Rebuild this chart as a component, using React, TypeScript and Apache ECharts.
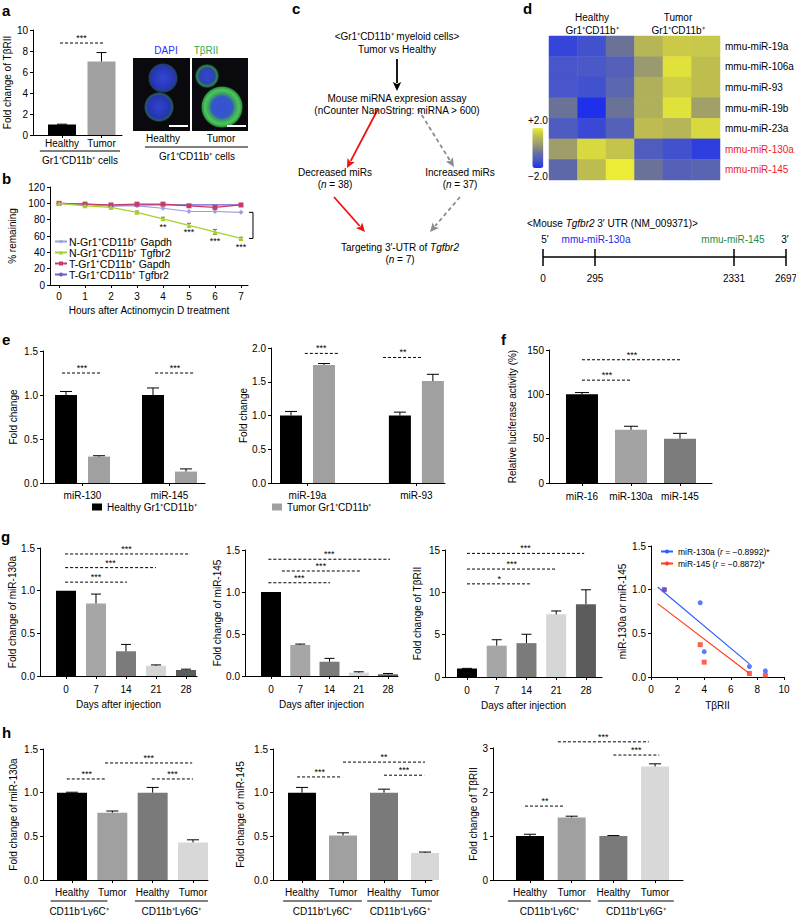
import React, { useEffect, useRef } from 'react';
import * as echarts from 'echarts';

const F = '"Liberation Sans", Arial, Helvetica, sans-serif';

// ---------------- DATA ----------------
// panel a
const aCats = ['Healthy', 'Tumor'];
const aVals = [1.0, 7.0];
const aErr = [0.03, 0.85];
const aColors = ['#000000', '#a0a0a0'];

// panel b
const bHours = [0, 1, 2, 3, 4, 5, 6, 7];
const bNames = ['N-Gr1⁺CD11b⁺ Gapdh', 'N-Gr1⁺CD11b⁺ Tgfbr2', 'T-Gr1⁺CD11b⁺ Gapdh', 'T-Gr1⁺CD11b⁺ Tgfbr2'];
const bNGapdh = [100, 99, 97, 97, 94, 90, 90, 89];
const bNTgfbr2 = [100, 97, 95, 89, 81, 73, 65, 57];
const bNTgfbr2Err = [0, 1, 1, 1.5, 2, 2.5, 3, 1.5];
const bTGapdh = [100, 99, 98, 99, 99, 97, 95, 98];
const bTTgfbr2 = [100, 99, 97, 98, 98, 98, 98, 98];
const bStars = [[4, 71], [5, 65], [6, 54], [7, 46.5]];
const bStarLabels = ['**', '***', '***', '***'];

// panel d heatmap
const dRows = ['mmu-miR-19a', 'mmu-miR-106a', 'mmu-miR-93', 'mmu-miR-19b', 'mmu-miR-23a', 'mmu-miR-130a', 'mmu-miR-145'];
const dRedRows = ['mmu-miR-130a', 'mmu-miR-145'];
const dCols = ['H1', 'H2', 'H3', 'T1', 'T2', 'T3'];
const dValues = [
  [-1.6, -1.35, -0.45, 1.0, 1.4, 1.35],
  [-1.25, -1.2, -0.95, 0.35, 1.8, 1.2],
  [-1.25, -1.35, -0.8, 0.85, 1.5, 1.2],
  [-0.45, -2.0, -0.45, 0.85, 1.8, 0.5],
  [-1.1, -1.5, -0.95, 1.15, 1.0, 1.65],
  [0.45, 1.65, 1.3, -1.05, -1.35, -1.7],
  [-0.75, 1.15, 2.0, -0.45, -0.95, -0.85],
];
const utrLabels = ['0', '295', '2331', '2697'];

// panel e
const eLeftCats = ['miR-130', 'miR-145'];
const eLeftHealthy = [1.0, 1.0];
const eLeftHealthyErr = [0.04, 0.08];
const eLeftTumor = [0.30, 0.13];
const eLeftTumorErr = [0.01, 0.03];
const eRightCats = ['miR-19a', 'miR-93'];
const eRightHealthy = [1.0, 1.0];
const eRightHealthyErr = [0.06, 0.05];
const eRightTumor = [1.75, 1.51];
const eRightTumorErr = [0.02, 0.10];
const eLegend = ['Healthy Gr1⁺CD11b⁺', 'Tumor Gr1⁺CD11b⁺'];

// panel f
const fCats = ['miR-16', 'miR-130a', 'miR-145'];
const fVals = [100, 60, 50];
const fErr = [2, 4, 6];

// panel g
const gDays = ['0', '7', '14', '21', '28'];
const g130a = [1.0, 0.85, 0.29, 0.12, 0.07];
const g130aErr = [0, 0.11, 0.08, 0.01, 0.01];
const g145 = [1.0, 0.37, 0.17, 0.04, 0.02];
const g145Err = [0, 0.01, 0.04, 0.01, 0.01];
const gTbr = [1.0, 3.7, 4.0, 7.4, 8.6];
const gTbrErr = [0.02, 0.7, 1.05, 0.4, 1.7];
const gCorrNames = ['miR-130a (r = −0.8992)*', 'miR-145 (r = −0.8872)*'];
const gFit130a = [[0.5, 1.03], [7.4, 0.15]];
const gFit145 = [[0.5, 0.84], [7.4, 0.04]];

// panel h
const hCats = ['Healthy', 'Tumor', 'Healthy', 'Tumor'];
const hGroups = ['CD11b⁺Ly6C⁺', 'CD11b⁺Ly6G⁺'];
const h130a = [1.0, 0.77, 1.0, 0.43];
const h130aErr = [0.005, 0.02, 0.06, 0.03];
const h145 = [1.0, 0.51, 1.0, 0.31];
const h145Err = [0.06, 0.03, 0.04, 0.01];
const hTbr = [1.0, 1.42, 1.0, 2.58];
const hTbrErr = [0.04, 0.03, 0.01, 0.06];

// ---------------- helpers ----------------
const grey5 = ['#000000', '#a6a6a6', '#7b7b7b', '#d6d6d6', '#5c5c5c'];
const grey4 = ['#000000', '#a0a0a0', '#7a7a7a', '#d8d8d8'];

function buildOption() {
  const grids: any[] = [];
  const xAxes: any[] = [];
  const yAxes: any[] = [];
  const series: any[] = [];
  const legends: any[] = [];
  const graphics: any[] = [];

  const yCfg = (max: number, interval: number, dec: number, name: string, nameGap: number) => ({
    type: 'value', min: 0, max, interval,
    name, nameLocation: 'middle', nameGap,
    nameTextStyle: { fontSize: 10, fontFamily: F, color: '#000' },
    axisLine: { show: true, onZero: false, lineStyle: { color: '#000', width: 1 } },
    axisTick: { show: true, length: 3, lineStyle: { color: '#000' } },
    axisLabel: { fontSize: 10, fontFamily: F, color: '#000', margin: 5, formatter: (v: number) => v.toFixed(dec) },
    splitLine: { show: false },
  });

  const xCfg = (min: number, max: number, pos: number[], labels: string[], margin: number, name?: string, nameGap?: number) => ({
    type: 'value', min, max,
    name: name || '', nameLocation: 'middle', nameGap: nameGap || 20,
    nameTextStyle: { fontSize: 10, fontFamily: F, color: '#000' },
    axisLine: { show: true, onZero: false, lineStyle: { color: '#000', width: 1 } },
    axisTick: { show: true, length: 3, customValues: pos, lineStyle: { color: '#000' } },
    axisLabel: {
      customValues: pos, margin, fontSize: 10, fontFamily: F, color: '#000',
      formatter: (v: number) => {
        let best = 0;
        pos.forEach((p, i) => { if (Math.abs(p - v) < Math.abs(pos[best] - v)) best = i; });
        return labels[best];
      },
    },
    splitLine: { show: false },
  });

  const addGrid = (g: any, x: any, y: any) => {
    const gi = grids.length;
    grids.push({ ...g, containLabel: false, outerBoundsMode: 'none' });
    xAxes.push({ gridIndex: gi, ...x });
    yAxes.push({ gridIndex: gi, ...y });
    return gi;
  };

  const barSeries = (gi: number, name: string, xs: number[], ys: number[], colors: string[], width: number) => ({
    type: 'bar', name, xAxisIndex: gi, yAxisIndex: gi, barWidth: width, barGap: '-100%', z: 2,
    itemStyle: { color: colors[0] },
    data: xs.map((x, i) => ({ value: [x, ys[i]], itemStyle: { color: colors[i % colors.length] } })),
  });

  const errSeries = (gi: number, xs: number[], ys: number[], es: number[], cap: number, both = false, color = '#000') => ({
    type: 'custom', xAxisIndex: gi, yAxisIndex: gi, silent: true, z: 4, clip: false,
    encode: { x: 0, y: 1 },
    data: xs.map((x, i) => [x, ys[i], es[i]]),
    renderItem: (p: any, api: any) => {
      const x = api.value(0), m = api.value(1), e = api.value(2);
      if (!e) return { type: 'group', children: [] };
      const t = api.coord([x, m + e]);
      const b = api.coord([x, both ? m - e : m]);
      const st = { stroke: color, lineWidth: 1 };
      const ch: any[] = [
        { type: 'line', shape: { x1: t[0], y1: b[1], x2: t[0], y2: t[1] }, style: st },
        { type: 'line', shape: { x1: t[0] - cap, y1: t[1], x2: t[0] + cap, y2: t[1] }, style: st },
      ];
      if (both) ch.push({ type: 'line', shape: { x1: t[0] - cap, y1: b[1], x2: t[0] + cap, y2: b[1] }, style: st });
      return { type: 'group', children: ch };
    },
  });

  const sigSeries = (gi: number, lines: number[][], labels: string[]) => ({
    type: 'custom', xAxisIndex: gi, yAxisIndex: gi, silent: true, z: 5, clip: false,
    encode: { x: 0, y: 2 },
    data: lines,
    renderItem: (p: any, api: any) => {
      const l = lines[p.dataIndex];
      const p1 = api.coord([l[0], l[2]]);
      const p2 = api.coord([l[1], l[2]]);
      return {
        type: 'group', children: [
          { type: 'line', shape: { x1: p1[0], y1: p1[1], x2: p2[0], y2: p1[1] }, style: { stroke: '#000', lineWidth: 1, lineDash: [3, 2] } },
          { type: 'text', x: (p1[0] + p2[0]) / 2, y: p1[1] - 0.5, style: { text: labels[p.dataIndex], fill: '#000', fontSize: 9, fontFamily: F, align: 'center', verticalAlign: 'bottom' } },
        ],
      };
    },
  });

  const groupSeries = (gi: number, ranges: number[][], labels: string[], lineOff: number, textOff: number) => ({
    type: 'custom', xAxisIndex: gi, yAxisIndex: gi, silent: true, z: 5, clip: false,
    encode: { x: 0, y: 2 },
    data: ranges.map((r) => [r[0], r[1], 0]),
    renderItem: (p: any, api: any) => {
      const r = ranges[p.dataIndex];
      const p1 = api.coord([r[0], 0]);
      const p2 = api.coord([r[1], 0]);
      return {
        type: 'group', children: [
          { type: 'line', shape: { x1: p1[0], y1: p1[1] + lineOff, x2: p2[0], y2: p1[1] + lineOff }, style: { stroke: '#000', lineWidth: 1 } },
          { type: 'text', x: (p1[0] + p2[0]) / 2, y: p1[1] + textOff, style: { text: labels[p.dataIndex], fill: '#000', fontSize: 10, fontFamily: F, align: 'center', verticalAlign: 'middle' } },
        ],
      };
    },
  });

  const idx = (n: number) => Array.from({ length: n }, (_, i) => i);

  // ---------- panel a ----------
  {
    const pos = [0, 1];
    const gi = addGrid({ left: 33, top: 30, width: 89, height: 105 },
      xCfg(-0.734, 1.519, pos, aCats, 3),
      yCfg(10, 2, 0, 'Fold change of TβRII', 21));
    series.push(barSeries(gi, 'a', pos, aVals, aColors, 28));
    series.push(errSeries(gi, pos, aVals, aErr, 5));
    series.push(sigSeries(gi, [[-0.05, 1.04, 8.76]], ['***']));
    series.push(groupSeries(gi, [[-0.56, 1.47]], ['Gr1⁺CD11b⁺ cells'], 16, 25));
  }

  // ---------- panel b ----------
  {
    const pos = bHours;
    const gi = addGrid({ left: 50, top: 187, width: 198, height: 98 },
      xCfg(-0.346, 7.27, pos, bHours.map(String), 6, 'Hours after Actinomycin D treatment', 20),
      yCfg(120, 20, 0, '% remaining', 33));
    const mk = (name: string, vals: number[], color: string, symbol: string, z: number) => ({
      type: 'line', name, xAxisIndex: gi, yAxisIndex: gi, z,
      data: bHours.map((h, i) => [h, vals[i]]),
      symbol, symbolSize: 5, showSymbol: symbol !== 'none',
      lineStyle: { color, width: 1.2 }, itemStyle: { color },
    });
    series.push(mk(bNames[3], bTTgfbr2, '#6b5fc8', 'none', 2));
    series.push(mk(bNames[0], bNGapdh, '#9a9fe0', 'diamond', 3));
    series.push(mk(bNames[2], bTGapdh, '#c83a6c', 'rect', 3));
    series.push(mk(bNames[1], bNTgfbr2, '#a6d32a', 'triangle', 4));
    series.push(errSeries(gi, bHours, bNTgfbr2, bNTgfbr2Err, 2, true, '#666'));
    series.push({
      type: 'custom', xAxisIndex: gi, yAxisIndex: gi, silent: true, z: 5, clip: false,
      encode: { x: 0, y: 1 }, data: bStars,
      renderItem: (p: any, api: any) => {
        const c = api.coord(bStars[p.dataIndex]);
        return { type: 'text', x: c[0], y: c[1], style: { text: bStarLabels[p.dataIndex], fill: '#000', fontSize: 9, fontFamily: F, align: 'center', verticalAlign: 'middle' } };
      },
    });
    const last = bHours.length - 1;
    const bracket = [[bHours[last], bTTgfbr2[last] - 9, bNTgfbr2[last]]];
    series.push({
      type: 'custom', xAxisIndex: gi, yAxisIndex: gi, silent: true, z: 5, clip: false,
      encode: { x: 0, y: 1 }, data: bracket,
      renderItem: (p: any, api: any) => {
        const b = bracket[0];
        const t = api.coord([b[0], b[1]]);
        const u = api.coord([b[0], b[2]]);
        const x = t[0] + 12;
        return {
          type: 'group', children: [
            { type: 'polyline', shape: { points: [[x - 4, t[1]], [x, t[1]], [x, u[1]], [x - 4, u[1]]] }, style: { stroke: '#000', lineWidth: 1, fill: 'none' } },
          ],
        };
      },
    });
    legends.push({
      left: 54, top: 236, orient: 'vertical', itemGap: 0, itemWidth: 12, itemHeight: 5, padding: 0,
      data: bNames, selectedMode: false,
      textStyle: { fontSize: 10.5, fontFamily: F, color: '#000', lineHeight: 8.3, padding: [0, 0, 0, -3] },
    });
  }

  // ---------- panel d heatmap ----------
  let heatIdx = 0;
  {
    const gi = addGrid({ left: 549, top: 36, width: 171, height: 144 },
      { type: 'category', data: dCols, show: false },
      {
        type: 'category', data: dRows, inverse: true, position: 'right',
        axisLine: { show: false }, axisTick: { show: false }, splitLine: { show: false },
        axisLabel: { fontSize: 10, fontFamily: F, margin: 5, color: (v: string) => (dRedRows.indexOf(v) >= 0 ? '#ee1c24' : '#000') },
      });
    const data: number[][] = [];
    dValues.forEach((row, r) => row.forEach((v, c) => data.push([c, r, v])));
    heatIdx = series.length;
    series.push({ type: 'heatmap', xAxisIndex: gi, yAxisIndex: gi, data, silent: true });
  }

  // ---------- panel e ----------
  {
    const hPos = [0, 2.636], tPos = [1, 3.636];
    const gi = addGrid({ left: 43, top: 351, width: 162, height: 132 },
      xCfg(-0.697, 4.212, [0.5, 3.136], eLeftCats, 7),
      yCfg(1.5, 0.5, 1, 'Fold change', 25));
    series.push(barSeries(gi, eLegend[0], hPos, eLeftHealthy, ['#000000'], 22));
    series.push(barSeries(gi, eLegend[1], tPos, eLeftTumor, ['#a0a0a0'], 22));
    series.push(errSeries(gi, hPos, eLeftHealthy, eLeftHealthyErr, 6));
    series.push(errSeries(gi, tPos, eLeftTumor, eLeftTumorErr, 6));
    series.push(sigSeries(gi, [[-0.12, 1.09, 1.25], [2.7, 3.9, 1.25]], ['***', '***']));
  }
  {
    const hPos = [0, 3.3], tPos = [1, 4.3];
    const gi = addGrid({ left: 271, top: 348, width: 174, height: 135 },
      xCfg(-0.606, 4.667, [0.5, 3.8], eRightCats, 7),
      yCfg(2.0, 0.5, 1, 'Fold change', 19));
    series.push(barSeries(gi, eLegend[0], hPos, eRightHealthy, ['#000000'], 22));
    series.push(barSeries(gi, eLegend[1], tPos, eRightTumor, ['#a0a0a0'], 22));
    series.push(errSeries(gi, hPos, eRightHealthy, eRightHealthyErr, 6));
    series.push(errSeries(gi, tPos, eRightTumor, eRightTumorErr, 6));
    series.push(sigSeries(gi, [[0.42, 1.42, 1.92], [2.79, 4.0, 1.86]], ['***', '**']));
  }
  legends.push({
    left: 92, top: 502, itemWidth: 10, itemHeight: 7, padding: 0, icon: 'rect', selectedMode: false,
    data: [eLegend[0]], textStyle: { fontSize: 10, fontFamily: F, color: '#000' },
  });
  legends.push({
    left: 272, top: 502, itemWidth: 10, itemHeight: 7, padding: 0, icon: 'rect', selectedMode: false,
    data: [eLegend[1]], textStyle: { fontSize: 10, fontFamily: F, color: '#000' },
  });

  // ---------- panel f ----------
  {
    const pos = [0, 1, 2];
    const gi = addGrid({ left: 549, top: 350, width: 163, height: 133 },
      xCfg(-0.673, 2.653, pos, fCats, 8),
      yCfg(150, 50, 0, 'Relative luciferase activity (%)', 32));
    series.push(barSeries(gi, 'f', pos, fVals, ['#000000', '#a3a3a3', '#7c7c7c'], 32));
    series.push(errSeries(gi, pos, fVals, fErr, 7));
    series.push(sigSeries(gi, [[0, 1.02, 116], [0, 2.04, 139]], ['***', '***']));
  }

  // ---------- panel g ----------
  {
    const pos = idx(5);
    const gi = addGrid({ left: 40, top: 548, width: 157, height: 128 },
      xCfg(-0.867, 4.367, pos, gDays, 8, 'Days after injection', 23),
      yCfg(1.5, 0.5, 1, 'Fold change of miR-130a', 22));
    series.push(barSeries(gi, 'g1', pos, g130a, grey5, 20));
    series.push(errSeries(gi, pos, g130a, g130aErr, 5));
    series.push(sigSeries(gi, [[-0.03, 4.07, 1.43], [-0.03, 3.0, 1.27], [-0.03, 2.03, 1.10]], ['***', '***', '***']));
  }
  {
    const pos = idx(5);
    const gi = addGrid({ left: 245, top: 550, width: 153, height: 126 },
      xCfg(-0.889, 4.342, pos, gDays, 8, 'Days after injection', 23),
      yCfg(1.5, 0.5, 1, 'Fold change of miR-145', 18));
    series.push(barSeries(gi, 'g2', pos, g145, grey5, 20));
    series.push(errSeries(gi, pos, g145, g145Err, 5));
    series.push(sigSeries(gi, [[-0.09, 4.07, 1.39], [0.37, 3.04, 1.25], [-0.09, 2.02, 1.11]], ['***', '***', '***']));
  }
  {
    const pos = idx(5);
    const gi = addGrid({ left: 445, top: 550, width: 157, height: 127 },
      xCfg(-0.74, 4.54, pos, gDays, 8, 'Days after injection', 23),
      yCfg(15, 5, 0, 'Fold change of TβRII', 23));
    series.push(barSeries(gi, 'g3', pos, gTbr, grey5, 20));
    series.push(errSeries(gi, pos, gTbr, gTbrErr, 5));
    series.push(sigSeries(gi, [[0, 3.94, 14.6], [0, 3.01, 12.75], [0, 2.17, 11.0]], ['***', '***', '*']));
  }
  {
    const gi = addGrid({ left: 651, top: 546, width: 133, height: 131 },
      {
        type: 'value', min: 0, max: 10, interval: 2,
        name: 'TβRII', nameLocation: 'middle', nameGap: 23,
        nameTextStyle: { fontSize: 10, fontFamily: F, color: '#000' },
        axisLine: { show: true, onZero: false, lineStyle: { color: '#000' } },
        axisTick: { show: true, length: 3, lineStyle: { color: '#000' } },
        axisLabel: { fontSize: 10, fontFamily: F, color: '#000', margin: 7 },
        splitLine: { show: false },
      },
      yCfg(1.5, 0.5, 1, 'miR-130a or miR-145', 24));
    series.push({
      type: 'line', name: gCorrNames[1], xAxisIndex: gi, yAxisIndex: gi, data: gFit145,
      symbol: 'circle', symbolSize: 5, showSymbol: false, lineStyle: { color: '#ff3b1f', width: 1.2 }, itemStyle: { color: '#ff3b1f' }, z: 2,
    });
    series.push({
      type: 'line', name: gCorrNames[0], xAxisIndex: gi, yAxisIndex: gi, data: gFit130a,
      symbol: 'circle', symbolSize: 5, showSymbol: false, lineStyle: { color: '#2f5bff', width: 1.2 }, itemStyle: { color: '#2f5bff' }, z: 2,
    });
    series.push({
      type: 'scatter', name: 'pts145', xAxisIndex: gi, yAxisIndex: gi, symbol: 'rect', symbolSize: 5,
      itemStyle: { color: '#ff3b1f' }, data: gTbr.map((x, i) => [x, g145[i]]), z: 3,
    });
    series.push({
      type: 'scatter', name: 'pts130a', xAxisIndex: gi, yAxisIndex: gi, symbol: 'circle', symbolSize: 5,
      itemStyle: { color: '#2f5bff' }, data: gTbr.map((x, i) => [x, g130a[i]]), z: 4,
    });
    legends.push({
      left: 660, top: 547, orient: 'vertical', itemGap: 3, itemWidth: 12, itemHeight: 5, padding: 0, selectedMode: false,
      data: [gCorrNames[0], gCorrNames[1]],
      formatter: (n: string) => n.replace('(r', '({i|r}'),
      textStyle: { fontSize: 8.5, fontFamily: F, color: '#000', rich: { i: { fontStyle: 'italic', fontSize: 8.5, fontFamily: F } } },
    });
  }

  // ---------- panel h ----------
  {
    const pos = idx(4);
    const gi = addGrid({ left: 43, top: 749, width: 165, height: 131 },
      xCfg(-0.719, 3.372, pos, hCats, 7),
      yCfg(1.5, 0.5, 1, 'Fold change of miR-130a', 25));
    series.push(barSeries(gi, 'h1', pos, h130a, grey4, 30));
    series.push(errSeries(gi, pos, h130a, h130aErr, 6));
    series.push(sigSeries(gi, [[-0.13, 0.86, 1.157], [0.82, 2.98, 1.34], [1.98, 3.0, 1.157]], ['***', '***', '***']));
    series.push(groupSeries(gi, [[-0.53, 0.88], [1.56, 3.37]], hGroups, 21, 31));
  }
  {
    const pos = idx(4);
    const gi = addGrid({ left: 273, top: 749, width: 159, height: 131 },
      xCfg(-0.707, 3.17, pos, hCats, 7),
      yCfg(1.5, 0.5, 1, 'Fold change of miR-145', 28));
    series.push(barSeries(gi, 'h2', pos, h145, grey4, 28));
    series.push(errSeries(gi, pos, h145, h145Err, 6));
    series.push(sigSeries(gi, [[-0.12, 0.98, 1.18], [1.0, 3.0, 1.35], [2.0, 2.98, 1.2]], ['***', '**', '***']));
    series.push(groupSeries(gi, [[-0.46, 1.46], [1.59, 3.17]], hGroups, 21, 31));
  }
  {
    const pos = idx(4);
    const gi = addGrid({ left: 493, top: 748, width: 190, height: 132 },
      xCfg(-0.887, 3.67, pos, hCats, 7),
      yCfg(3, 1, 0, 'Fold change of TβRII', 13));
    series.push(barSeries(gi, 'h3', pos, hTbr, grey4, 28));
    series.push(errSeries(gi, pos, hTbr, hTbrErr, 6));
    series.push(sigSeries(gi, [[-0.12, 0.84, 1.68], [0.67, 2.85, 3.14], [2.0, 3.1, 2.84]], ['**', '***', '***']));
    series.push(groupSeries(gi, [[-0.53, 1.46], [1.63, 3.45]], hGroups, 21, 31));
  }

  // ---------- graphics ----------
  const T = (x: number, y: number, text: string, o: any = {}) => ({
    type: 'text', x, y, silent: true, z: 10,
    style: {
      text, fill: o.fill || '#000', fontSize: o.size || 10, fontFamily: F, fontWeight: o.weight || 'normal',
      align: o.align || 'center', verticalAlign: 'middle',
      rich: o.rich,
    },
  });
  const italic = { i: { fontStyle: 'italic', fontSize: 10, fontFamily: F } };
  const L = (x1: number, y1: number, x2: number, y2: number, o: any = {}) => ({
    type: 'line', silent: true, shape: { x1, y1, x2, y2 },
    style: { stroke: o.stroke || '#000', lineWidth: o.w || 1, lineDash: o.dash || null },
  });
  const arrow = (x1: number, y1: number, x2: number, y2: number, color: string, dashed: boolean) => {
    const dx = x2 - x1, dy = y2 - y1, len = Math.hypot(dx, dy), ux = dx / len, uy = dy / len;
    const hl = 9, hw = 4.2;
    const bx = x2 - ux * hl, by = y2 - uy * hl;
    return [
      L(x1, y1, bx + ux * 1, by + uy * 1, { stroke: color, w: 1.8, dash: dashed ? [4, 3] : null }),
      { type: 'polygon', silent: true, shape: { points: [[x2, y2], [bx - uy * hw, by + ux * hw], [bx + ux * 2, by + uy * 2], [bx + uy * hw, by - ux * hw]] }, style: { fill: color } },
    ];
  };

  // panel letters
  [['a', 2, 10], ['b', 2, 178], ['c', 292, 8], ['d', 523, 8], ['e', 2, 339], ['f', 501, 339], ['g', 1, 536], ['h', 2, 732]].forEach(
    (l: any) => graphics.push(T(l[1], l[2], l[0], { size: 15, weight: 'bold', align: 'left' })),
  );

  // panel a microscopy
  graphics.push({ type: 'rect', silent: true, shape: { x: 133, y: 58, width: 57, height: 73 }, style: { fill: '#0a0a0e' } });
  graphics.push({ type: 'rect', silent: true, shape: { x: 192, y: 58, width: 56, height: 73 }, style: { fill: '#0a0a0e' } });
  const rg = (stops: [number, string][]) => ({ type: 'radial', x: 0.5, y: 0.5, r: 0.5, colorStops: stops.map(([o, c]) => ({ offset: o, color: c })) });
  graphics.push({ type: 'circle', silent: true, shape: { cx: 163, cy: 78, r: 15 }, style: { fill: rg([[0, '#3347d6'], [0.75, '#2636b4'], [0.92, '#223e70'], [1, 'rgba(20,60,40,0.2)']]) } });
  graphics.push({ type: 'circle', silent: true, shape: { cx: 159, cy: 107, r: 15 }, style: { fill: rg([[0, '#3043d0'], [0.75, '#2535ae'], [0.9, '#295868'], [1, 'rgba(30,90,40,0.2)']]) } });
  graphics.push({ type: 'circle', silent: true, shape: { cx: 207, cy: 76, r: 12 }, style: { fill: rg([[0, '#3446d0'], [0.65, '#2d44b0'], [0.85, '#2f8a4c'], [1, 'rgba(30,120,50,0.3)']]) } });
  graphics.push({ type: 'circle', silent: true, shape: { cx: 222, cy: 107, r: 21 }, style: { fill: rg([[0, '#3550d8'], [0.5, '#3558c8'], [0.66, '#3aa85a'], [0.82, '#4cc85a'], [0.95, '#2f8f45'], [1, 'rgba(20,80,30,0.3)']]) } });
  graphics.push(L(169, 126, 188, 126, { stroke: '#ffffff', w: 2 }));
  graphics.push(L(227, 126, 246, 126, { stroke: '#ffffff', w: 2 }));
  graphics.push(T(166, 50, 'DAPI', { fill: '#2b2bff' }));
  graphics.push(T(206, 50, 'TβRII', { fill: '#2fa84f' }));
  graphics.push(T(163, 138, 'Healthy'));
  graphics.push(T(221, 138, 'Tumor'));
  graphics.push(L(145, 147, 248, 147));
  graphics.push(T(197, 156, 'Gr1⁺CD11b⁺ cells'));

  // panel c flowchart
  graphics.push(T(397, 36, '<Gr1⁺CD11b⁺ myeloid cells>'));
  graphics.push(T(397, 49, 'Tumor vs Healthy'));
  graphics.push(...arrow(397, 59, 397, 91, '#000', false));
  graphics.push(T(397, 98, 'Mouse miRNA expresion assay'));
  graphics.push(T(397, 110, '(nCounter NanoString: miRNA > 600)'));
  graphics.push(...arrow(378, 109, 347, 168, '#ee1111', false));
  graphics.push(...arrow(418, 109, 454, 167, '#8c8c8c', true));
  graphics.push(T(335, 172, 'Decreased miRs'));
  graphics.push(T(335, 184, '({i|n} = 38)', { rich: italic }));
  graphics.push(T(460, 172, 'Increased miRs'));
  graphics.push(T(460, 184, '({i|n} = 37)', { rich: italic }));
  graphics.push(...arrow(334, 197, 365, 232, '#ee1111', false));
  graphics.push(...arrow(460, 197, 430, 232, '#8c8c8c', true));
  graphics.push(T(400, 247, 'Targeting 3′-UTR of {i|Tgfbr2}', { rich: italic }));
  graphics.push(T(400, 259, '({i|n} = 7)', { rich: italic }));

  // panel d headers and UTR diagram
  graphics.push(T(592, 17, 'Healthy'));
  graphics.push(T(592, 30, 'Gr1⁺CD11b⁺'));
  graphics.push(T(678, 17, 'Tumor'));
  graphics.push(T(678, 30, 'Gr1⁺CD11b⁺'));
  graphics.push(T(527, 223, '<Mouse {i|Tgfbr2} 3′ UTR (NM_009371)>', { align: 'left', rich: italic }));
  graphics.push(T(545, 239, '5′'));
  graphics.push(T(596, 239, 'mmu-miR-130a', { fill: '#2424ee' }));
  graphics.push(T(733, 239, 'mmu-miR-145', { fill: '#238a4c' }));
  graphics.push(T(785, 239, '3′'));
  graphics.push(L(543, 257, 786, 257, { w: 1.5 }));
  const utrX = [543, 595, 734, 786];
  utrX.forEach((x, i) => {
    graphics.push(L(x, 249, x, 266, { w: 1.5 }));
    graphics.push(T(x, 278, utrLabels[i]));
  });

  return {
    animation: false,
    textStyle: { fontFamily: F },
    grid: grids,
    xAxis: xAxes,
    yAxis: yAxes,
    legend: legends,
    visualMap: [{
      type: 'continuous', min: -2, max: 2, seriesIndex: heatIdx, orient: 'vertical',
      left: 528, top: 115, itemWidth: 11, itemHeight: 40, calculable: false, padding: 0,
      text: ['+2.0', '−2.0'], textGap: 3,
      textStyle: { fontSize: 10, fontFamily: F, color: '#000' },
      inRange: { color: ['#1f30ea', '#4a58c8', '#6c7594', '#9d9c6c', '#bebe4e', '#ecec36'] },
    }],
    series,
    graphic: graphics,
  };
}

export default function App() {
  const ref = useRef<HTMLDivElement>(null);
  useEffect(() => {
    const chart = echarts.init(ref.current as HTMLDivElement, null, { renderer: 'svg' });
    chart.setOption(buildOption() as any);
    return () => chart.dispose();
  }, []);
  return (
    <div
      ref={ref}
      style={{ position: 'absolute', left: 0, top: 0, width: 796, height: 916, background: '#ffffff' }}
    />
  );
}
